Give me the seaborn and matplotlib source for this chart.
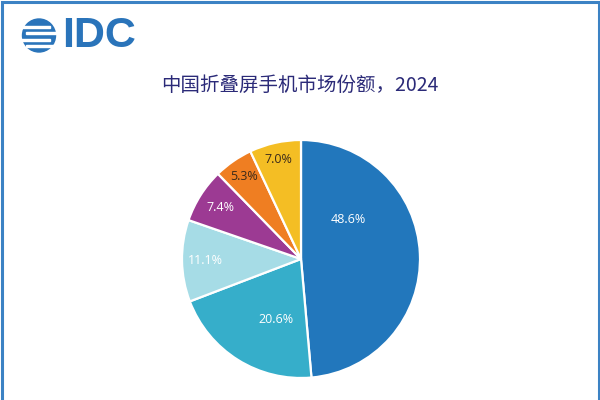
import numpy as np
import matplotlib
matplotlib.use("Agg")
import matplotlib.pyplot as plt
import seaborn as sns
from matplotlib.patches import Circle, Rectangle

# ---- data ----
title = "中国折叠屏手机市场份额，2024"
shares = [48.6, 20.6, 11.1, 7.4, 5.3, 7.0]
pct_labels = ["48.6%", "20.6%", "11.1%", "7.4%", "5.3%", "7.0%"]

# ---- style ----
colors = ["#2277BC", "#36AECA", "#A6DCE6", "#9C3A93", "#EF7E22", "#F4BE24"]
label_colors = ["white", "white", "white", "white", "#3a2a1a", "#3a2a1a"]
label_dist = [0.52, 0.55, 0.80, 0.80, 0.84, 0.86]
label_angle_shift = [37, 10, 0, 0, 0, 0]

sns.set_theme(style="white")
plt.rcParams['font.family'] = ['Noto Sans CJK SC', 'DejaVu Sans']

fig = plt.figure(figsize=(6, 4), dpi=100)
fig.patch.set_facecolor("white")

# pie axes: centre (301,259) px, radius 119 px
W, H = 600, 400
cx, cy, r = 301, 259, 119
ax = fig.add_axes([(cx - r) / W, (H - cy - r) / H, 2 * r / W, 2 * r / H])
wedges, _ = ax.pie(shares, colors=sns.color_palette(colors), startangle=90,
                   counterclock=False,
                   wedgeprops=dict(edgecolor="white", linewidth=1.6))
ax.set_xlim(-1.0, 1.0)
ax.set_ylim(-1.0, 1.0)
ax.set_aspect("equal")
ax.axis("off")

for w, lab, col, d, sh in zip(wedges, pct_labels, label_colors, label_dist, label_angle_shift):
    ang = np.deg2rad((w.theta1 + w.theta2) / 2 + sh)
    ax.text(d * np.cos(ang), d * np.sin(ang), lab, ha="center", va="center",
            color=col, fontsize=9, family=["Open Sans", "DejaVu Sans"])

# title
fig.text(0.5, 1 - 85 / H, title, ha="center", va="center", fontsize=14,
         color="#2B2A78")

# IDC logo
lax = fig.add_axes([0, 0, 1, 1], zorder=-1)
lax.set_xlim(0, W)
lax.set_ylim(H, 0)
lax.axis("off")
logo_blue = "#2A74BA"
globe = Circle((39, 35.5), 16.5, color=logo_blue)
lax.add_patch(globe)
for x0, yy in [(20, 25.5), (26, 32), (20, 38.5), (26, 45)]:
    lax.add_patch(Rectangle((x0, yy), 30, 2.2, color="white"))
lax.text(62, 36, "IDC", fontsize=31, fontweight="bold", color=logo_blue,
         ha="left", va="center", family=["Liberation Sans", "DejaVu Sans"])

# border (left, top, right)
bc = "#3C82C4"
lax.plot([1.5, 1.5, W - 1.5, W - 1.5], [H, 1.5, 1.5, H], color=bc, lw=2.2,
         solid_joinstyle="miter")

fig.savefig("out.png", dpi=100)
